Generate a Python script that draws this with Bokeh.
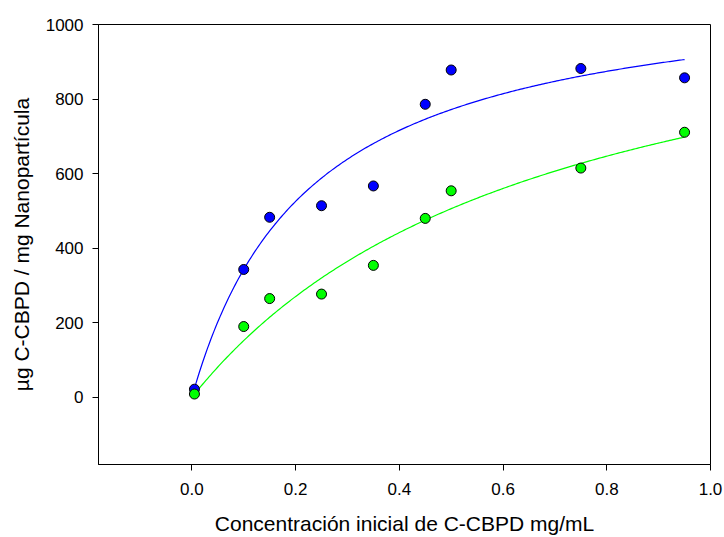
import numpy as np
from bokeh.plotting import figure
from bokeh.models import Range1d, FixedTicker, PrintfTickFormatter
from bokeh.embed import file_html
from bokeh.resources import INLINE

# Data
conc = [0.005, 0.10, 0.15, 0.25, 0.35, 0.45, 0.50, 0.75, 0.95]
blue_vals = [22, 343, 483, 514, 567, 786, 878, 882, 857]
green_vals = [9, 190, 265, 277, 354, 480, 554, 615, 711]

# Hyperbolic fit parameters (y = a*x/(b+x))
blue_fit = (1122.8, 0.2273)
green_fit = (1206.6, 0.6922)
fit_x_min, fit_x_max = 0.005, 0.95

x_ticks = [0.0, 0.2, 0.4, 0.6, 0.8, 1.0]
y_ticks = [0, 200, 400, 600, 800, 1000]

x_label = "Concentración inicial de C-CBPD mg/mL"
y_label = "µg C-CBPD / mg Nanopartícula"

FONT = "Liberation Sans"

p = figure(width=724, height=537, output_backend="svg", toolbar_location=None,
           x_range=Range1d(-0.18, 1.0), y_range=Range1d(-180, 1000),
           min_border_left=98, min_border_right=14, min_border_top=24, min_border_bottom=71)

p.grid.visible = False
p.outline_line_color = "black"
p.outline_line_width = 1
p.background_fill_color = "white"
p.border_fill_color = "white"

for ax in (p.xaxis[0], p.yaxis[0]):
    ax.axis_line_color = "black"
    ax.major_tick_line_color = "black"
    ax.major_tick_out = 6
    ax.major_tick_in = 0
    ax.minor_tick_line_color = None
    ax.major_label_text_font = FONT
    ax.major_label_text_font_size = "17px"
    ax.major_label_text_color = "black"
    ax.axis_label_text_font = FONT
    ax.axis_label_text_font_size = "21px"
    ax.axis_label_text_font_style = "normal"
    ax.axis_label_text_color = "black"

p.xaxis[0].ticker = FixedTicker(ticks=x_ticks)
p.yaxis[0].ticker = FixedTicker(ticks=y_ticks)
p.xaxis[0].formatter = PrintfTickFormatter(format="%.1f")
p.yaxis[0].formatter = PrintfTickFormatter(format="%d")
p.xaxis[0].major_label_standoff = 12
p.yaxis[0].major_label_standoff = 9
p.xaxis[0].axis_label = x_label
p.yaxis[0].axis_label = y_label
p.xaxis[0].axis_label_standoff = 14
p.yaxis[0].axis_label_standoff = 10

xf = np.linspace(fit_x_min, fit_x_max, 300)
for (a, b), col in ((blue_fit, "#0000ff"), (green_fit, "#00ff00")):
    p.line(xf, a * xf / (b + xf), line_color=col, line_width=1.2)

p.scatter(conc, blue_vals, size=10, fill_color="#0000ff", line_color="black", line_width=1)
p.scatter(conc, green_vals, size=10, fill_color="#00ff00", line_color="black", line_width=1)

open("out.html", "w").write(file_html(p, INLINE))
